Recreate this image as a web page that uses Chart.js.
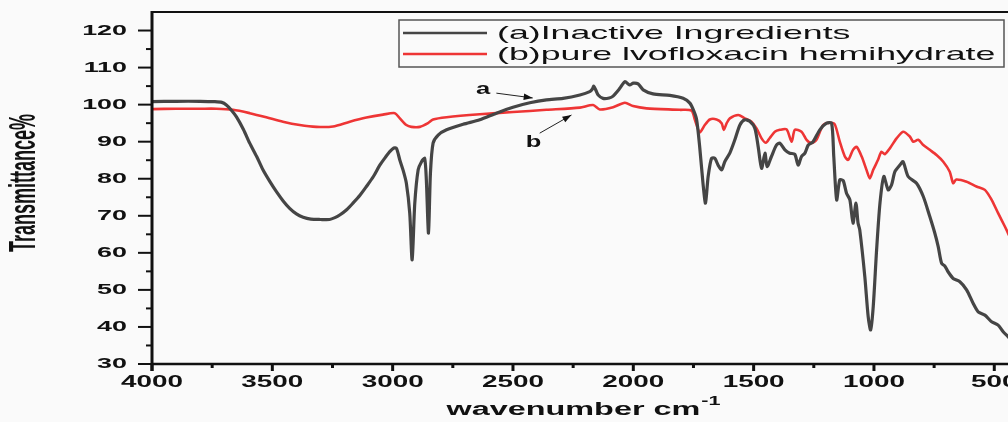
<!DOCTYPE html>
<html>
<head>
<meta charset="utf-8">
<script src="https://cdn.jsdelivr.net/npm/chart.js@4/dist/chart.umd.min.js"></script>
<style>
  html, body { margin:0; padding:0; background:#fafafa; overflow:hidden; }
  canvas { display:block; }
</style>
</head>
<body>
<canvas id="c" width="1008" height="422"></canvas>
<script>
// ---- data ----
const seriesNames = ["(a)Inactive Ingredients", "(b)pure lvofloxacin hemihydrate"];

const aWave = [4000,3900,3800,3740,3710,3691,3670,3649,3620,3594,3565,3539,3510,3483,3455,3428,3400,3372,3340,3300,3262,3240,3220,3190,3165,3135,3109,3080,3054,3030,3012,2995,2984,2970,2957,2943,2929,2919,2908,2894,2880,2867,2860,2851,2843,2832,2811,2776,2707,2638,2569,2500,2430,2361,2292,2222,2181,2170,2164,2155,2146,2126,2100,2084,2056,2035,2015,2000,1980,1959,1918,1848,1793,1765,1750,1737,1724,1710,1700,1689,1675,1661,1648,1633,1620,1599,1578,1557,1537,1516,1495,1481,1467,1453,1444,1426,1405,1391,1370,1350,1329,1315,1301,1287,1273,1253,1225,1197,1176,1167,1155,1142,1128,1114,1100,1087,1075,1066,1059,1038,1024,1014,1003,989,975,959,941,927,913,892,879,858,823,795,768,747,733,719,705,692,671,643,615,588,567,539,511,484,463,443,430];
const aTrans = [100.8,100.9,100.9,100.8,100.6,99.9,98.5,96.7,93.3,89.6,86.0,82.4,79.2,76.5,74.0,72.0,70.5,69.6,69.1,69.0,69.0,69.5,70.2,71.7,73.4,75.6,77.9,80.6,83.6,85.8,87.3,88.3,88.2,85.0,82.4,78.8,70.7,58.1,73.4,82.4,84.6,85.5,79.7,65.3,81.5,89.6,91.8,93.2,94.7,95.9,97.7,99.3,100.5,101.3,101.7,102.6,103.5,104.2,105.0,103.8,102.6,101.7,101.8,102.3,104.4,106.2,105.3,105.8,105.6,104.0,102.9,102.5,101.7,100.4,98.5,96.0,88.5,78.5,73.4,80.6,85.5,85.5,83.7,82.4,84.6,86.9,90.5,94.5,95.9,95.5,93.6,88.6,82.8,86.9,83.3,86.0,89.1,89.6,87.8,86.9,86.6,83.7,86.0,86.9,89.1,90.0,93.2,95.0,95.0,86.0,74.3,79.7,79.5,76.1,74.3,68.0,73.4,68.0,66.2,53.6,42.8,39.2,45.5,60.8,73.4,80.6,77.0,78.3,81.9,83.7,84.6,80.6,78.8,75.2,69.8,65.3,61.7,57.2,56.4,54.9,53.1,52.2,50.0,46.4,44.1,43.2,41.4,40.5,38.7,37.4,36.5];

const bWave = [4000,3900,3800,3732,3663,3594,3525,3456,3386,3317,3248,3178,3109,3040,2991,2970,2943,2922,2887,2853,2832,2776,2638,2500,2361,2222,2167,2139,2084,2035,2001,1945,1807,1758,1744,1724,1703,1682,1654,1633,1624,1612,1599,1564,1537,1509,1488,1467,1449,1433,1412,1391,1363,1342,1329,1301,1280,1259,1239,1211,1183,1163,1142,1121,1107,1087,1072,1051,1031,1017,1003,983,969,955,934,906,879,851,837,816,795,768,740,712,685,671,658,615,574,539,511,484,456,443,430];
const bTrans = [98.8,98.9,98.9,98.9,98.6,97.7,96.6,95.4,94.5,94.0,94.1,95.4,96.5,97.3,97.7,96.3,94.5,94.0,94.0,95.0,96.0,96.6,97.4,98.0,98.6,99.2,99.9,98.7,99.3,100.5,99.6,99.0,98.6,98.4,95.9,92.5,94.5,96.0,96.0,95.0,93.2,95.0,96.3,97.2,96.3,95.4,93.6,90.9,89.7,91.0,92.7,93.2,93.3,90.0,93.2,92.7,90.5,89.6,90.5,94.5,95.1,94.7,90.0,86.0,85.1,87.8,88.6,86.0,82.4,80.1,82.4,85.1,87.3,86.6,88.2,90.9,92.7,91.4,90.0,90.5,89.1,87.8,86.4,84.6,81.9,78.8,79.8,79.2,77.9,77.0,74.3,70.7,67.1,65.3,63.5];

const xMajorTicks = [4000,3500,3000,2500,2000,1500,1000,500];
const xMinorTicks = [3750,3250,2750,2250,1750,1250,750];
const yMajorTicks = [30,40,50,60,70,80,90,100,110,120];
const yMinorTicks = [35,45,55,65,75,85,95,105,115];

const xTitle = "wavenumber cm";
const xTitleSup = "-1";
const yTitle = "Transmittance%";

// annotation labels (data coordinates: [wavenumber, transmittance])
const annotations = [
  { text: "a", at: [2624, 104.0], from: [2569, 103.1], to: [2418, 101.8] },
  { text: "b", at: [2415, 89.7],  from: [2389, 92.3],  to: [2257, 97.2] }
];

const FONT = "'Liberation Sans', Arial, sans-serif";

function sText(ctx, text, x, y, sx, align, font, color) {
  ctx.save();
  ctx.font = font;
  ctx.fillStyle = color || '#111';
  ctx.textAlign = align;
  ctx.textBaseline = 'middle';
  ctx.translate(x, y);
  ctx.scale(sx, 1);
  ctx.fillText(text, 0, 0);
  ctx.restore();
}

const bgPlugin = {
  id: 'bg',
  beforeDraw(chart) {
    const c = chart.ctx;
    c.save();
    c.fillStyle = '#fafafa';
    c.fillRect(0, 0, chart.width, chart.height);
    c.restore();
  }
};

const framePlugin = {
  id: 'frame',
  afterDraw(chart) {
    const c = chart.ctx;
    const xs = chart.scales.x, ys = chart.scales.y;
    const a = chart.chartArea;
    c.save();
    c.strokeStyle = '#111';
    c.lineCap = 'butt';
    // top frame
    c.lineWidth = 2;
    c.beginPath(); c.moveTo(a.left, a.top); c.lineTo(chart.width, a.top); c.stroke();
    // bottom axis
    c.lineWidth = 2.5;
    c.beginPath(); c.moveTo(a.left - 1, a.bottom); c.lineTo(chart.width, a.bottom); c.stroke();
    // left axis
    c.lineWidth = 3;
    c.beginPath(); c.moveTo(a.left, a.top - 1); c.lineTo(a.left, a.bottom + 7); c.stroke();

    // y ticks
    c.lineWidth = 2;
    yMajorTicks.forEach(v => {
      const y = ys.getPixelForValue(v);
      c.beginPath(); c.moveTo(a.left - 14, y); c.lineTo(a.left, y); c.stroke();
      sText(c, String(v), 127, y + 0.5, 1.92, 'right', 'bold 14px ' + FONT);
    });
    yMinorTicks.forEach(v => {
      const y = ys.getPixelForValue(v);
      c.beginPath(); c.moveTo(a.left - 6, y); c.lineTo(a.left, y); c.stroke();
    });
    // x ticks
    c.lineWidth = 3;
    xMajorTicks.forEach(v => {
      const x = xs.getPixelForValue(v);
      c.beginPath(); c.moveTo(x, a.bottom); c.lineTo(x, a.bottom + 7); c.stroke();
      sText(c, String(v), x, 382.5, 1.74, 'center', 'bold 16px ' + FONT);
    });
    xMinorTicks.forEach(v => {
      const x = xs.getPixelForValue(v);
      c.beginPath(); c.moveTo(x, a.bottom); c.lineTo(x, a.bottom + 4); c.stroke();
    });

    // x title with superscript
    c.font = 'bold 18px ' + FONT;
    const sxT = 1.8;
    const w1 = c.measureText(xTitle).width * sxT;
    c.font = 'bold 12px ' + FONT;
    const w2 = c.measureText(xTitleSup).width * sxT;
    const x0 = 583 - (w1 + w2) / 2;
    sText(c, xTitle, x0, 410, sxT, 'left', 'bold 18px ' + FONT);
    sText(c, xTitleSup, x0 + w1 + 1, 402, sxT, 'left', 'bold 12px ' + FONT);

    // y title (rotated, glyphs stretched)
    c.save();
    c.translate(25, 183);
    c.rotate(-Math.PI / 2);
    c.scale(1, 2);
    c.font = 'bold 18px ' + FONT;
    c.fillStyle = '#111';
    c.textAlign = 'center';
    c.textBaseline = 'middle';
    c.fillText(yTitle, 0, 0);
    c.restore();

    // annotations
    annotations.forEach(an => {
      const lx = xs.getPixelForValue(an.at[0]), ly = ys.getPixelForValue(an.at[1]);
      sText(c, an.text, lx, ly, 1.5, 'center', 'bold 17px ' + FONT);
      const fx = xs.getPixelForValue(an.from[0]), fy = ys.getPixelForValue(an.from[1]);
      const tx = xs.getPixelForValue(an.to[0]), ty = ys.getPixelForValue(an.to[1]);
      c.strokeStyle = '#222'; c.lineWidth = 1;
      c.beginPath(); c.moveTo(fx, fy); c.lineTo(tx, ty); c.stroke();
      const ang = Math.atan2(ty - fy, tx - fx);
      const L = 9, W = 3.2;
      c.fillStyle = '#111';
      c.beginPath();
      c.moveTo(tx, ty);
      c.lineTo(tx - L * Math.cos(ang) + W * Math.sin(ang), ty - L * Math.sin(ang) - W * Math.cos(ang));
      c.lineTo(tx - L * Math.cos(ang) - W * Math.sin(ang), ty - L * Math.sin(ang) + W * Math.cos(ang));
      c.closePath(); c.fill();
    });

    // legend
    c.strokeStyle = '#555'; c.lineWidth = 1.5;
    c.strokeRect(399, 20, 605, 47);
    const legY = [33, 54];
    chart.data.datasets.forEach((ds, i) => {
      c.strokeStyle = ds.borderColor; c.lineWidth = 2.5;
      c.beginPath(); c.moveTo(403, legY[i]); c.lineTo(487, legY[i]); c.stroke();
      sText(c, ds.label, 497, legY[i] + 0.5, 1.88, 'left', '19px ' + FONT, '#111');
    });
    c.restore();
  }
};

new Chart(document.getElementById('c'), {
  type: 'line',
  data: {
    datasets: [
      { label: seriesNames[0], data: aWave.map((w, i) => ({ x: w, y: aTrans[i] })),
        borderColor: '#454545', borderWidth: 3.2, pointRadius: 0, tension: 0.25, fill: false },
      { label: seriesNames[1], data: bWave.map((w, i) => ({ x: w, y: bTrans[i] })),
        borderColor: '#ee3535', borderWidth: 2.6, pointRadius: 0, tension: 0.25, fill: false }
    ]
  },
  options: {
    responsive: false,
    animation: false,
    layout: { padding: { left: 152, top: 12, right: 0, bottom: 58 } },
    scales: {
      x: { type: 'linear', reverse: true, min: 443, max: 4000, display: false },
      y: { type: 'linear', min: 30, max: 125, display: false }
    },
    plugins: { legend: { display: false }, tooltip: { enabled: false } }
  },
  plugins: [bgPlugin, framePlugin]
});
</script>
</body>
</html>
